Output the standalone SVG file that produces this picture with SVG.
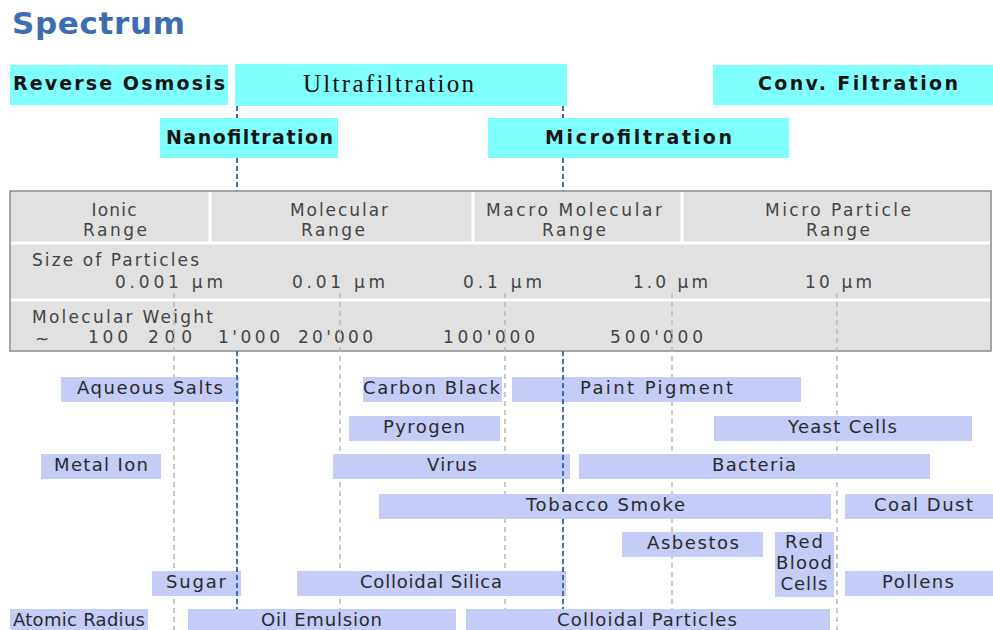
<svg xmlns="http://www.w3.org/2000/svg" width="993" height="630" viewBox="0 0 993 630">
  <style>
    .title { font-family: "DejaVu Sans", "Liberation Sans", sans-serif; font-weight: bold; font-size: 31px; fill: #3c6db2; }
    .proc { fill: #80ffff; }
    .proc-t { font-family: "DejaVu Sans", "Liberation Sans", sans-serif; font-weight: bold; font-size: 19px; fill: #151515; }
    .proc-s { font-family: "Liberation Serif", "DejaVu Serif", serif; font-size: 25px; fill: #111; }
    .tbl { fill: #e1e1e1; stroke: #8c8c8c; stroke-width: 1.5; }
    .sep { stroke: #ffffff; stroke-width: 3; }
    .tt { font-family: "DejaVu Sans", "Liberation Sans", sans-serif; font-size: 17px; fill: #444; }
    .bar { fill: #c4ccf7; }
    .bt { font-family: "DejaVu Sans", "Liberation Sans", sans-serif; font-size: 18px; fill: #2a2a2a; text-anchor: middle; }
    .grid { stroke: #b8b8b8; stroke-width: 1.5; stroke-dasharray: 5 4; fill: none; }
    .bound { stroke: #3a6cb8; stroke-width: 2; stroke-dasharray: 5 3; fill: none; }
  </style>

  <rect width="993" height="630" fill="#ffffff"/>

  <text class="title" x="12" y="34" textLength="173">Spectrum</text>

  <!-- separation processes -->
  <g id="reverse-osmosis">
    <rect class="proc" x="10" y="65" width="218" height="40"/>
    <text class="proc-t" x="13" y="90" textLength="212">Reverse Osmosis</text>
  </g>
  <g id="ultrafiltration">
    <rect class="proc" x="235" y="64" width="332" height="42"/>
    <text class="proc-s" x="303" y="92" textLength="171">Ultrafiltration</text>
  </g>
  <g id="conv-filtration">
    <rect class="proc" x="713" y="65" width="280" height="40"/>
    <text class="proc-t" x="758" y="90" textLength="200">Conv. Filtration</text>
  </g>

  <!-- boundary lines between processes -->
  <g id="connectors">
    <path class="bound" d="M237 106V118M237 158V193M563 106V118M563 158V193"/>
  </g>

  <g id="nanofiltration">
    <rect class="proc" x="160" y="118" width="178" height="40"/>
    <text class="proc-t" x="166" y="144" textLength="167">Nanofiltration</text>
  </g>
  <g id="microfiltration">
    <rect class="proc" x="488" y="118" width="301" height="40"/>
    <text class="proc-t" x="545" y="144" textLength="187">Microfiltration</text>
  </g>

  <!-- scale table -->
  <g id="scale-table">
    <rect class="tbl" x="10" y="191" width="981" height="160"/>
    <line class="sep" x1="11" y1="243" x2="990" y2="243"/>
    <line class="sep" x1="11" y1="300" x2="990" y2="300"/>
    <line class="sep" x1="210" y1="192" x2="210" y2="243"/>
    <line class="sep" x1="473" y1="192" x2="473" y2="243"/>
    <line class="sep" x1="682" y1="192" x2="682" y2="243"/>

    <g text-anchor="middle">
      <text class="tt" x="114" y="216" textLength="45">Ionic</text>
      <text class="tt" x="115" y="236" textLength="64">Range</text>
      <text class="tt" x="339" y="216" textLength="98">Molecular</text>
      <text class="tt" x="333" y="236" textLength="64">Range</text>
      <text class="tt" x="574" y="216" textLength="176">Macro Molecular</text>
      <text class="tt" x="574" y="236" textLength="64">Range</text>
      <text class="tt" x="838" y="216" textLength="146">Micro Particle</text>
      <text class="tt" x="838" y="236" textLength="64">Range</text>
    </g>

    <text class="tt" x="32" y="266" textLength="167">Size of Particles</text>
    <text class="tt" x="115" y="288" textLength="108">0.001 μm</text>
    <text class="tt" x="292" y="288" textLength="93">0.01 μm</text>
    <text class="tt" x="463" y="288" textLength="79">0.1 μm</text>
    <text class="tt" x="633" y="288" textLength="75">1.0 μm</text>
    <text class="tt" x="805" y="288" textLength="67">10 μm</text>

    <text class="tt" x="32" y="323" textLength="181">Molecular Weight</text>
    <text class="tt" x="35" y="345">~</text>
    <text class="tt" x="88" y="343" textLength="40">100</text>
    <text class="tt" x="148" y="343" textLength="44">200</text>
    <text class="tt" x="218" y="343" textLength="62">1'000</text>
    <text class="tt" x="298" y="343" textLength="75">20'000</text>
    <text class="tt" x="443" y="343" textLength="92">100'000</text>
    <text class="tt" x="610" y="343" textLength="93">500'000</text>
  </g>

  <!-- decade grid lines -->
  <g id="grid">
    <path class="grid" d="M174 293V630M340 293V630M505 293V630M672 293V630M837 293V630"/>
  </g>

  <!-- particle size ranges -->
  <g id="aqueous-salts"><rect class="bar" x="61" y="377" width="178" height="25"/><text class="bt" x="150" y="394" textLength="146">Aqueous Salts</text></g>
  <g id="carbon-black"><rect class="bar" x="363" y="377" width="139" height="25"/><text class="bt" x="431.5" y="394" textLength="137">Carbon Black</text></g>
  <g id="paint-pigment"><rect class="bar" x="512" y="377" width="289" height="25"/><text class="bt" x="656.5" y="394" textLength="153">Paint Pigment</text></g>

  <g id="pyrogen"><rect class="bar" x="349" y="416" width="151" height="25"/><text class="bt" x="424" y="433" textLength="82">Pyrogen</text></g>
  <g id="yeast-cells"><rect class="bar" x="714" y="416" width="258" height="25"/><text class="bt" x="842.5" y="433" textLength="109">Yeast Cells</text></g>

  <g id="metal-ion"><rect class="bar" x="41" y="454" width="120" height="25"/><text class="bt" x="101" y="471" textLength="94">Metal Ion</text></g>
  <g id="virus"><rect class="bar" x="333" y="454" width="237" height="25"/><text class="bt" x="452" y="471" textLength="50">Virus</text></g>
  <g id="bacteria"><rect class="bar" x="579" y="454" width="351" height="25"/><text class="bt" x="754" y="471" textLength="84">Bacteria</text></g>

  <g id="coal-dust"><rect class="bar" x="845" y="494" width="148" height="25"/><text class="bt" x="923.5" y="511" textLength="99">Coal Dust</text></g>

  <g id="asbestos"><rect class="bar" x="622" y="532" width="141" height="25"/><text class="bt" x="693" y="549" textLength="92">Asbestos</text></g>
  <g id="red-blood-cells">
    <rect class="bar" x="775" y="532" width="59" height="65"/>
    <text class="bt" x="804" y="548" textLength="38">Red</text>
    <text class="bt" x="804" y="569" textLength="56">Blood</text>
    <text class="bt" x="804" y="590" textLength="47">Cells</text>
  </g>

  <g id="sugar"><rect class="bar" x="152" y="571" width="89" height="25"/><text class="bt" x="196" y="588" textLength="60">Sugar</text></g>
  <g id="colloidal-silica"><rect class="bar" x="297" y="571" width="269" height="25"/><text class="bt" x="431" y="588" textLength="142">Colloidal Silica</text></g>
  <g id="pollens"><rect class="bar" x="845" y="571" width="148" height="25"/><text class="bt" x="918" y="588" textLength="72">Pollens</text></g>

  <!-- process boundaries continue across the size ranges -->
  <g id="boundary-lower">
    <path class="bound" d="M237 351V609M563 351V493"/>
  </g>

  <g id="tobacco-smoke"><rect class="bar" x="379" y="494" width="452" height="25"/><text class="bt" x="605.5" y="511" textLength="159">Tobacco Smoke</text></g>
  <g id="boundary-tail">
    <path class="bound" d="M563 519V609"/>
  </g>

  <g id="atomic-radius"><rect class="bar" x="10" y="609" width="138" height="21"/><text class="bt" x="79" y="626" textLength="132">Atomic Radius</text></g>
  <g id="oil-emulsion"><rect class="bar" x="188" y="609" width="268" height="21"/><text class="bt" x="321.5" y="626" textLength="121">Oil Emulsion</text></g>
  <g id="colloidal-particles"><rect class="bar" x="466" y="609" width="364" height="21"/><text class="bt" x="647" y="626" textLength="180">Colloidal Particles</text></g>
</svg>
